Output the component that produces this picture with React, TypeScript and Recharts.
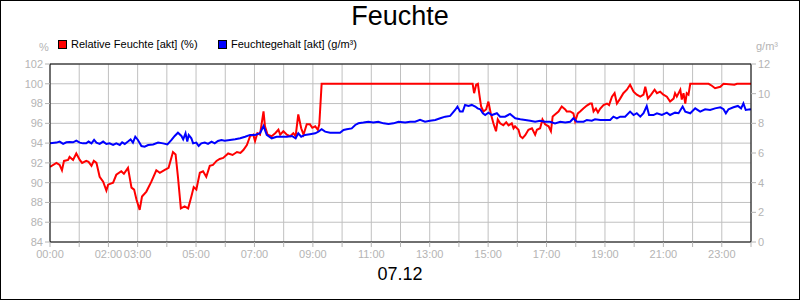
import { CartesianGrid, Line, LineChart, ReferenceLine, XAxis, YAxis } from "recharts";

const hourTicks = Array.from({ length: 25 }, (_, i) => i);
const labelledHours = [0, 2, 3, 5, 7, 9, 11, 13, 15, 17, 19, 21, 23];
const leftTicks = [84, 86, 88, 90, 92, 94, 96, 98, 100, 102];
const rightTicks = [0, 2, 4, 6, 8, 10, 12];

// Relative Feuchte [akt] (%)
const relHours = [
  0, 0.22, 0.33, 0.41, 0.48, 0.62, 0.67, 0.79, 0.9, 1.02, 1.1, 1.24, 1.32, 1.42, 1.5, 1.59, 1.7, 1.82,
  1.93, 1.99, 2.16, 2.27, 2.44, 2.53, 2.67, 2.79, 2.88, 2.96, 3.07, 3.15, 3.3, 3.47, 3.64, 3.76, 3.93,
  4.06, 4.21, 4.3, 4.38, 4.48, 4.61, 4.73, 4.84, 4.92, 5.01, 5.13, 5.24, 5.35, 5.47, 5.58, 5.7, 5.81,
  5.93, 6.1, 6.25, 6.4, 6.52, 6.62, 6.74, 6.85, 6.96, 7.02, 7.1, 7.19, 7.31, 7.36, 7.45, 7.59, 7.71,
  7.82, 7.88, 7.99, 8.11, 8.22, 8.33, 8.41, 8.5, 8.6, 8.68, 8.79, 8.9, 8.98, 9.08, 9.17, 9.22, 9.3,
  14.47, 14.52, 14.59, 14.65, 14.7, 14.76, 14.84, 14.93, 15.01, 15.09, 15.18, 15.27, 15.33, 15.41,
  15.52, 15.62, 15.7, 15.81, 15.87, 15.92, 16.04, 16.1, 16.18, 16.27, 16.38, 16.5, 16.61, 16.67,
  16.78, 16.86, 16.95, 17.07, 17.15, 17.21, 17.29, 17.41, 17.52, 17.64, 17.69, 17.81, 17.92, 17.98,
  18.07, 18.15, 18.26, 18.38, 18.49, 18.55, 18.61, 18.69, 18.76, 18.84, 18.95, 19.07, 19.14, 19.24,
  19.33, 19.41, 19.52, 19.63, 19.75, 19.86, 19.98, 20.09, 20.21, 20.32, 20.38, 20.47, 20.58, 20.7,
  20.78, 20.89, 21.0, 21.12, 21.23, 21.35, 21.4, 21.46, 21.58, 21.63, 21.69, 21.75, 21.8, 21.86,
  21.92, 22.55, 22.66, 22.77, 22.95, 23.06, 23.43, 23.52, 24,
];
const relValues = [
  91.6, 92.0, 91.8, 91.25, 92.2, 92.3, 92.6, 92.3, 92.95, 92.3, 92.0, 92.2, 92.1, 91.7, 92.2, 92.0,
  90.6, 90.1, 89.2, 89.8, 90.0, 90.8, 91.15, 90.9, 91.5, 89.5, 89.3, 88.3, 87.25, 88.6, 89.1, 90.1,
  91.25, 91.0, 91.3, 91.5, 93.1, 92.85, 90.6, 87.4, 87.6, 87.4, 88.6, 89.55, 89.3, 91.0, 91.15, 90.6,
  91.7, 91.8, 92.2, 92.4, 92.5, 92.95, 92.8, 93.1, 93.0, 93.3, 93.8, 94.7, 94.85, 94.2, 95.0, 94.85,
  97.2, 95.7, 94.85, 94.7, 95.0, 95.35, 94.85, 95.2, 94.85, 94.7, 95.0, 94.7, 96.9, 95.5, 94.85,
  95.9, 95.9, 95.55, 95.7, 95.35, 95.9, 100, 100, 99.05, 99.9, 100, 98.9, 97.7, 97.2, 97.4, 98.2,
  97.0, 96.0, 95.2, 96.4, 96.0, 95.8, 96.1, 95.8, 96.0, 95.5, 95.7, 95.35, 94.7, 94.5, 94.8, 95.35,
  95.5, 94.85, 95.35, 95.5, 96.4, 95.9, 95.7, 95.2, 96.7, 96.9, 97.2, 97.7, 97.4, 97.2, 97.2, 97.0,
  96.2, 97.0, 97.2, 97.5, 97.8, 98.0, 98.0, 97.2, 97.5, 97.1, 97.5, 97.85, 98.0, 97.85, 98.7, 99.05,
  98.0, 98.5, 99.05, 99.4, 99.9, 99.2, 98.9, 98.7, 98.9, 99.7, 98.5, 98.9, 99.4, 99.05, 99.2, 98.9,
  98.7, 98.2, 98.5, 99.05, 98.7, 99.4, 98.4, 99.05, 98.0, 99.05, 98.9, 100, 100, 99.8, 99.55, 99.7,
  100, 99.9, 100, 100,
];

// Feuchtegehalt [akt] (g/m³)
const absHours = [
  0, 0.22, 0.33, 0.45, 0.56, 0.67, 0.79, 0.9, 1.02, 1.13, 1.24, 1.32, 1.42, 1.51, 1.59, 1.7, 1.82,
  1.93, 2.04, 2.16, 2.27, 2.39, 2.47, 2.56, 2.67, 2.76, 2.84, 2.92, 3.01, 3.13, 3.24, 3.36, 3.53,
  3.7, 3.87, 4.02, 4.16, 4.27, 4.38, 4.5, 4.56, 4.64, 4.7, 4.75, 4.84, 4.9, 5.01, 5.09, 5.18, 5.3,
  5.41, 5.53, 5.64, 5.75, 5.87, 5.98, 6.16, 6.34, 6.51, 6.68, 6.85, 7.02, 7.19, 7.31, 7.42, 7.59,
  7.76, 7.93, 8.11, 8.28, 8.41, 8.5, 8.6, 8.73, 8.9, 9.08, 9.19, 9.3, 9.42, 9.59, 9.76, 9.93, 10.05,
  10.16, 10.33, 10.45, 10.56, 10.73, 10.9, 11.07, 11.24, 11.42, 11.59, 11.76, 11.93, 12.16, 12.33,
  12.5, 12.67, 12.84, 13.01, 13.19, 13.36, 13.53, 13.7, 13.87, 13.95, 14.04, 14.13, 14.21, 14.33,
  14.44, 14.56, 14.64, 14.73, 14.82, 14.9, 15.01, 15.13, 15.3, 15.41, 15.58, 15.75, 15.93, 16.1,
  16.27, 16.44, 16.61, 16.78, 16.95, 17.12, 17.29, 17.47, 17.64, 17.81, 17.92, 18.04, 18.27, 18.38,
  18.55, 18.66, 18.84, 19.01, 19.18, 19.29, 19.41, 19.52, 19.69, 19.86, 19.98, 20.09, 20.21, 20.32,
  20.43, 20.51, 20.66, 20.78, 20.95, 21.12, 21.23, 21.4, 21.52, 21.66, 21.75, 21.92, 22.09, 22.26,
  22.43, 22.6, 22.77, 22.95, 23.06, 23.14, 23.23, 23.4, 23.55, 23.66, 23.74, 23.82, 23.97, 24,
];
const absValues = [
  6.65, 6.7, 6.77, 6.61, 6.72, 6.74, 6.72, 6.83, 6.7, 6.65, 6.65, 6.77, 6.65, 6.88, 6.7, 6.61, 6.77,
  6.61, 6.65, 6.54, 6.65, 6.54, 6.72, 6.61, 6.77, 6.92, 6.7, 7.1, 6.88, 6.47, 6.43, 6.54, 6.58, 6.7,
  6.65, 6.58, 6.88, 7.15, 7.37, 7.15, 6.92, 7.33, 6.77, 7.21, 6.99, 6.65, 6.7, 6.47, 6.65, 6.7, 6.61,
  6.77, 6.65, 6.81, 6.88, 6.83, 6.88, 6.92, 6.99, 7.1, 7.22, 7.22, 7.33, 7.82, 7.22, 6.99, 7.1, 7.1,
  7.1, 7.15, 6.99, 7.33, 7.1, 7.22, 7.27, 7.33, 7.44, 7.6, 7.44, 7.37, 7.37, 7.37, 7.55, 7.6, 7.66,
  7.89, 8.0, 8.05, 8.11, 8.05, 8.11, 8.0, 7.96, 8.0, 8.11, 8.05, 8.11, 8.11, 8.23, 8.11, 8.18, 8.23,
  8.34, 8.45, 8.5, 8.9, 9.13, 8.79, 8.79, 9.24, 9.17, 9.24, 9.13, 9.01, 8.95, 8.68, 8.56, 8.72, 8.56,
  8.68, 8.45, 8.45, 8.63, 8.34, 8.27, 8.23, 8.18, 8.11, 8.18, 8.11, 8.11, 8.0, 8.11, 8.05, 8.11, 8.34,
  8.11, 8.11, 8.23, 8.18, 8.27, 8.23, 8.23, 8.23, 8.45, 8.34, 8.45, 8.45, 8.79, 8.56, 8.68, 8.45,
  8.68, 9.17, 8.56, 8.56, 8.68, 8.56, 8.72, 8.56, 8.72, 8.68, 9.13, 8.79, 8.68, 9.01, 8.79, 8.95, 8.9,
  9.01, 9.08, 8.95, 8.68, 8.95, 9.08, 9.17, 9.01, 9.35, 8.9, 8.95, 8.92,
];

const relData = relHours.map((t, i) => ({ t, v: relValues[i] }));
const absData = absHours.map((t, i) => ({ t, v: absValues[i] }));

const font = '"Liberation Sans", Arial, sans-serif';
const tickStyle = { fill: "#b4b4b4", fontSize: 11, fontFamily: font };

const fmtHour = (h: number) =>
  labelledHours.includes(h) ? `${String(h).padStart(2, "0")}:00` : "";

function LegendItem({ color, label, left }: { color: string; label: string; left: number }) {
  return (
    <div style={{ position: "absolute", left, top: 38, display: "flex", alignItems: "center", fontSize: 11, color: "#000" }}>
      <span style={{ width: 7, height: 7, background: color, border: "1px solid #000", marginRight: 4 }} />
      {label}
    </div>
  );
}

export default function App() {
  return (
    <div style={{ position: "absolute", left: 0, top: 0, width: 800, height: 300, background: "#fff", fontFamily: font }}>
      <LineChart width={800} height={300} data={relData} margin={{ top: 64, right: 0, bottom: 38, left: 0 }}>
        <CartesianGrid xAxisId="x" yAxisId="left" stroke="#c0c0c0" strokeWidth={1} />
        <XAxis
          xAxisId="x"
          dataKey="t"
          type="number"
          domain={[0, 24]}
          ticks={hourTicks}
          interval={0}
          tickFormatter={fmtHour}
          tick={tickStyle}
          tickLine={{ stroke: "#b4b4b4" }}
          tickSize={5}
          tickMargin={3}
          axisLine={{ stroke: "#000" }}
          height={20}
          allowDataOverflow
        />
        <YAxis
          yAxisId="left"
          domain={[84, 102]}
          ticks={leftTicks}
          interval={0}
          width={50}
          tick={tickStyle}
          tickLine={{ stroke: "#b4b4b4" }}
          tickSize={5}
          tickMargin={2}
          axisLine={{ stroke: "#000" }}
          allowDataOverflow
        />
        <YAxis
          yAxisId="right"
          orientation="right"
          domain={[0, 12]}
          ticks={rightTicks}
          interval={0}
          width={49}
          tick={{ ...tickStyle, textAnchor: "start" }}
          tickLine={{ stroke: "#b4b4b4" }}
          tickSize={5}
          tickMargin={2}
          axisLine={{ stroke: "#000" }}
          allowDataOverflow
        />
        <ReferenceLine xAxisId="x" yAxisId="left" y={102} stroke="#000" />
        <Line
          xAxisId="x"
          yAxisId="left"
          data={relData}
          dataKey="v"
          type="linear"
          stroke="#ff0000"
          strokeWidth={2}
          dot={false}
          isAnimationActive={false}
        />
        <Line
          xAxisId="x"
          yAxisId="right"
          data={absData}
          dataKey="v"
          type="linear"
          stroke="#0000ff"
          strokeWidth={2}
          dot={false}
          isAnimationActive={false}
        />
      </LineChart>
      <div style={{ position: "absolute", left: 0, top: 1, width: 800, textAlign: "center", fontSize: 27 }}>Feuchte</div>
      <LegendItem color="#ff0000" label="Relative Feuchte [akt] (%)" left={58} />
      <LegendItem color="#0000ff" label="Feuchtegehalt [akt] (g/m³)" left={218} />
      <div style={{ position: "absolute", left: 39, top: 41, fontSize: 11, color: "#b4b4b4" }}>%</div>
      <div style={{ position: "absolute", left: 756, top: 40, fontSize: 11, color: "#b4b4b4" }}>g/m³</div>
      <div style={{ position: "absolute", left: 0, top: 264, width: 800, textAlign: "center", fontSize: 18 }}>07.12</div>
      <div style={{ position: "absolute", left: 0, top: 0, width: 800, height: 300, boxSizing: "border-box", border: "1px solid #000", pointerEvents: "none" }} />
    </div>
  );
}
